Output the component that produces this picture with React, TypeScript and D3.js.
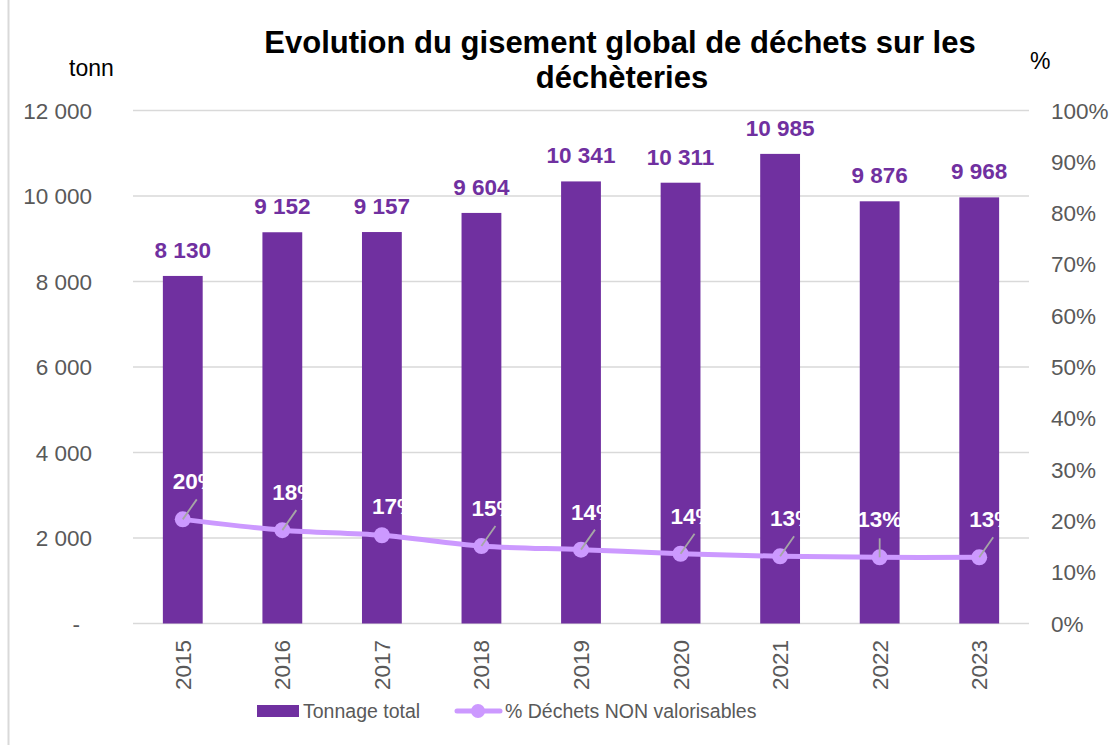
import React from "react";
import * as d3 from "d3";

const years = ["2015", "2016", "2017", "2018", "2019", "2020", "2021", "2022", "2023"];
const tonnage = [8130, 9152, 9157, 9604, 10341, 10311, 10985, 9876, 9968];
const pctNonValo = [20.3, 18.2, 17.2, 15.1, 14.4, 13.6, 13.1, 12.9, 12.9];
const leftTicks = [0, 2000, 4000, 6000, 8000, 10000, 12000];
const rightTicks = [0, 10, 20, 30, 40, 50, 60, 70, 80, 90, 100];
const titleLines = ["Evolution du gisement global de déchets sur les", "déchèteries"];
const legendLabels = ["Tonnage total", "% Déchets NON valorisables"];

const W = 1113;
const H = 745;
const M = { left: 133, right: 1029, top: 110.5, bottom: 623.5 };
const FONT = "'Liberation Sans', Arial, sans-serif";
const BAR = "#7030A0";
const LINE = "#CC99FF";
const GRID = "#D9D9D9";
const AXIS_TXT = "#595959";

const fmt = (v: number) => {
  if (v === 0) return "-";
  const s = Math.round(v).toString();
  return s.replace(/\B(?=(\d{3})+(?!\d))/g, " ");
};

export default function App() {
  const x = d3.scaleBand<string>().domain(years).range([M.left, M.right]).paddingInner(0.6).paddingOuter(0.3);
  const yL = d3.scaleLinear().domain([0, 12000]).range([M.bottom, M.top]);
  const yR = d3.scaleLinear().domain([0, 100]).range([M.bottom, M.top]);
  const cx = (yr: string) => (x(yr) as number) + x.bandwidth() / 2;

  const pts: [number, number][] = years.map((yr, i) => [cx(yr), yR(pctNonValo[i])]);
  const lineGen = d3.line().curve(d3.curveCatmullRom.alpha(0.5));
  const path = lineGen(pts) || "";

  return (
    <div style={{ position: "absolute", left: 0, top: 0 }}>
      <svg width={W} height={H} style={{ display: "block", background: "#fff" }} fontFamily={FONT}>
        <line x1={8.5} x2={8.5} y1={0} y2={H} stroke={GRID} strokeWidth={2} />
        {/* title */}
        <text x={620} y={53} textAnchor="middle" fontSize={31} fontWeight="bold" fill="#000">
          {titleLines[0]}
        </text>
        <text x={622} y={88} textAnchor="middle" fontSize={31} fontWeight="bold" fill="#000">
          {titleLines[1]}
        </text>
        <text x={69} y={76} fontSize={23} fill="#000">tonn</text>
        <text x={1030} y={69} fontSize={23} fill="#000">%</text>

        {/* gridlines */}
        {leftTicks.map((t) => (
          <line key={"g" + t} x1={M.left} x2={M.right} y1={yL(t)} y2={yL(t)} stroke={GRID} strokeWidth={1.5} />
        ))}
        {/* left axis labels */}
        {leftTicks.map((t) => (
          <text key={"l" + t} x={t === 0 ? 80 : 92} y={yL(t) + 8} textAnchor="end" fontSize={22.5} fill={AXIS_TXT}>
            {fmt(t)}
          </text>
        ))}
        {/* right axis labels */}
        {rightTicks.map((t) => (
          <text key={"r" + t} x={1051} y={yR(t) + 8} textAnchor="start" fontSize={22.5} fill={AXIS_TXT}>
            {t + "%"}
          </text>
        ))}
        {/* bars */}
        {years.map((yr, i) => (
          <rect key={"b" + yr} x={x(yr)} y={yL(tonnage[i])} width={x.bandwidth()} height={M.bottom - yL(tonnage[i])} fill={BAR} />
        ))}
        {/* bar value labels */}
        {years.map((yr, i) => (
          <text key={"bv" + yr} x={cx(yr)} y={yL(tonnage[i]) - 18} textAnchor="middle" fontSize={22.5} fontWeight="bold" fill={BAR}>
            {fmt(tonnage[i])}
          </text>
        ))}
        {/* x labels */}
        {years.map((yr) => (
          <text key={"x" + yr} transform={`translate(${cx(yr) + 8},640) rotate(-90)`} textAnchor="end" fontSize={22.5} fill={AXIS_TXT}>
            {yr}
          </text>
        ))}
        {/* line */}
        <path d={path} fill="none" stroke={LINE} strokeWidth={5} />
        {pts.map(([px, py], i) => (
          <circle key={"c" + i} cx={px} cy={py} r={8} fill={LINE} />
        ))}
        {/* leader lines */}
        {pts.map(([px, py], i) =>
          i === 2 ? null : i === 7 ? (
            <line key={"ll" + i} x1={px} y1={py} x2={px} y2={py - 19} stroke="#A6A6A6" strokeWidth={1.8} />
          ) : (
            <line key={"ll" + i} x1={px} y1={py} x2={px + 14} y2={py - 20} stroke="#A6A6A6" strokeWidth={1.8} />
          )
        )}
        {/* pct labels */}
        {pts.map(([px, py], i) => (
          <text key={"pl" + i} x={i === 7 ? px : px - 10} y={i === 2 ? py - 21 : py - 30} textAnchor={i === 7 ? "middle" : "start"} fontSize={22.5} fontWeight="bold" fill="#fff">
            {Math.round(pctNonValo[i]) + "%"}
          </text>
        ))}
        {/* legend */}
        <rect x={257} y={705} width={42} height={12} fill={BAR} />
        <text x={303} y={718} fontSize={19.5} fill={AXIS_TXT}>{legendLabels[0]}</text>
        <line x1={457} x2={500} y1={711} y2={711} stroke={LINE} strokeWidth={5} strokeLinecap="round" />
        <circle cx={478} cy={711} r={7} fill={LINE} />
        <text x={505} y={718} fontSize={19.5} fill={AXIS_TXT}>{legendLabels[1]}</text>
      </svg>
    </div>
  );
}
